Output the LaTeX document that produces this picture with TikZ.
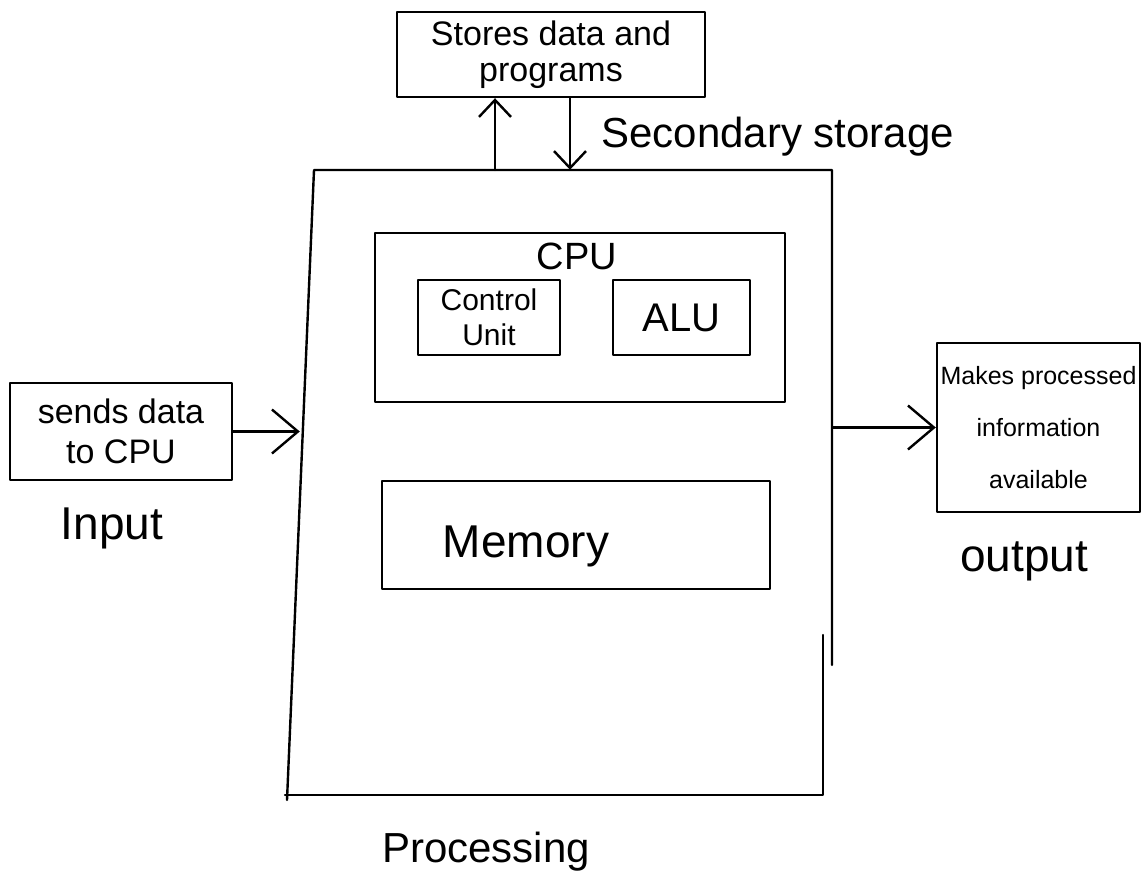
\documentclass[tikz,border=0pt]{standalone}
\usepackage{fontspec}
\setmainfont{Liberation Sans}
\usetikzlibrary{arrows.meta,calc}
\begin{document}
\begin{tikzpicture}[x=1pt,y=-1pt,
  ink/.style={line width=2.4pt, line cap=round, line join=round},
  box/.style={draw, ink, inner sep=0pt, align=center},
  conn/.style={ink, -{Straight Barb[length=26pt,width=44pt,line width=2.4pt]}},
  connsmall/.style={ink, -{Straight Barb[length=17pt,width=32pt,line width=2.4pt]}},
  fs/.style={font=\fontsize{#1}{#1}\selectfont}
]
\fill[white] (0,0) rectangle (1145,895);
\useasboundingbox (0,0) rectangle (1145,895);

% secondary storage
\node[box, minimum width=308pt, minimum height=85pt, font=\fontsize{34}{36}\selectfont]
  (store) at (551,54.5) {Stores data and\\programs};
\node[anchor=base west, fs=42] (seclbl) at (598,147) {Secondary storage};

% processing unit (hand-drawn outline)
\node[minimum width=532pt, minimum height=625pt, inner sep=0pt] (proc) at (566,482.5) {};
\draw[ink] (287,800) -- (314,170) -- (832,170) -- (832,665);
\draw[ink] (823,635) -- (823,795) -- (285,795);
\node[fs=42] (proclbl) at (486,852) {Processing};

% CPU with its two units
\node[box, minimum width=410pt, minimum height=169pt] (cpu) at (580,317.5) {};
\node[fs=38] (cpulbl) at (577,256) {CPU};
\node[box, minimum width=142pt, minimum height=75pt, font=\fontsize{30}{35}\selectfont]
  (cu) at (489,317.5) {Control\\Unit};
\node[box, minimum width=137pt, minimum height=75pt, fs=40] (alu) at (681.5,317.5) {ALU};

% memory
\node[box, minimum width=388pt, minimum height=108pt] (mem) at (576,535) {};
\node[fs=46] (memlbl) at (526,546) {Memory};

% input
\node[box, minimum width=222pt, minimum height=97pt, font=\fontsize{34}{40}\selectfont]
  (inp) at (121,431.5) {sends data\\to CPU};
\node[fs=46] (inlbl) at (112,528) {Input};

% output
\node[box, minimum width=203pt, minimum height=169pt, font=\fontsize{25}{52}\selectfont]
  (outb) at (1038.5,427.5) {Makes processed\\information\\available};
\node[fs=46] (outlbl) at (1024,561) {output};

% connectors
\draw[conn] (inp.east) -- (inp.east -| proc.west);
\draw[conn] (proc.east |- outb.west) -- (outb.west);
\draw[connsmall] ($(proc.north)+(-71,0)$) -- ($(store.south)+(-56,0)$);
\draw[connsmall] ($(store.south)+(19,0)$) -- ($(proc.north)+(4,0)$);
\end{tikzpicture}
\end{document}
